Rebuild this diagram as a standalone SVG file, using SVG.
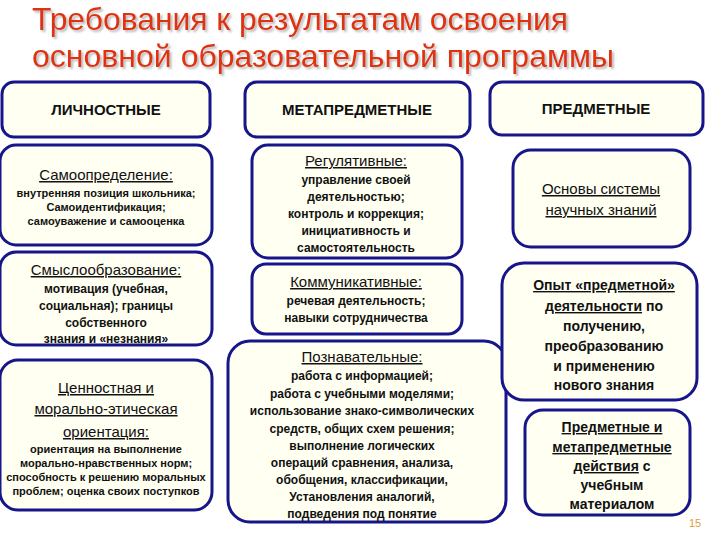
<svg xmlns="http://www.w3.org/2000/svg" width="720" height="540" viewBox="0 0 720 540">
<defs>
<filter id="sh" x="-5%" y="-20%" width="110%" height="150%"><feDropShadow dx="2" dy="2" stdDeviation="1" flood-color="#999" flood-opacity="0.7"/></filter>
</defs>
<style>
.box{fill:#fffff2;stroke:#16168a;stroke-width:3}
text{font-family:"Liberation Sans",Arial,sans-serif;text-anchor:middle;fill:#111}
.h{font-size:15px;font-weight:bold}
.s{font-size:15px;text-decoration:underline}
.b{font-size:12px;font-weight:bold}
.bs{font-size:11px;font-weight:bold}
.r{font-size:14px;font-weight:bold}
.t{font-size:32px;fill:#e0300c;text-anchor:start}
</style>
<rect width="720" height="540" fill="#fff"/>
<g id="title" filter="url(#sh)">
<text class="t" x="32" y="30" textLength="536" lengthAdjust="spacingAndGlyphs">Требования к результатам освоения</text>
<text class="t" x="32" y="67" textLength="582" lengthAdjust="spacingAndGlyphs">основной образовательной  программы</text>
</g>
<g id="n-lich"><rect class="box" x="2" y="82" width="208" height="55" rx="12"/><text class="h" x="106" y="115">ЛИЧНОСТНЫЕ</text></g>
<g id="n-meta"><rect class="box" x="245" y="82" width="225" height="55" rx="12"/><text class="h" x="357" y="115">МЕТАПРЕДМЕТНЫЕ</text></g>
<g id="n-pred"><rect class="box" x="490" y="82" width="213" height="53" rx="12"/><text class="h" x="596" y="114">ПРЕДМЕТНЫЕ</text></g>

<g id="n-samo"><rect class="box" x="0" y="145" width="212" height="100" rx="16"/>
<text class="s" x="106" y="180">Самоопределение:</text>
<text class="bs" x="106" y="197">внутренняя позиция школьника;</text>
<text class="bs" x="106" y="211">Самоидентификация;</text>
<text class="bs" x="106" y="225">самоуважение и самооценка</text></g>
<g id="n-smysl"><rect class="box" x="0" y="252" width="212" height="93" rx="16"/>
<text class="s" x="106" y="275">Смыслообразование:</text>
<text class="b" x="106" y="293">мотивация (учебная,</text>
<text class="b" x="106" y="310">социальная); границы</text>
<text class="b" x="106" y="327">собственного</text>
<text class="b" x="106" y="343">знания и «незнания»</text></g>
<g id="n-cenn"><rect class="box" x="0" y="360" width="212" height="150" rx="18"/>
<text class="s" x="106" y="393">Ценностная и</text>
<text class="s" x="106" y="414">морально-этическая</text>
<text class="s" x="106" y="437">ориентация:</text>
<text class="bs" x="106" y="453">ориентация на выполнение</text>
<text class="bs" x="106" y="467">морально-нравственных норм;</text>
<text class="bs" x="106" y="481">способность к решению моральных</text>
<text class="bs" x="106" y="495">проблем; оценка своих поступков</text></g>

<g id="n-reg"><rect class="box" x="252" y="145" width="210" height="113" rx="16"/>
<text class="s" x="356" y="166">Регулятивные:</text>
<text class="b" x="356" y="184">управление своей</text>
<text class="b" x="356" y="201">деятельностью;</text>
<text class="b" x="356" y="218">контроль и коррекция;</text>
<text class="b" x="356" y="235">инициативность и</text>
<text class="b" x="356" y="252">самостоятельность</text></g>
<g id="n-komm"><rect class="box" x="252" y="264" width="210" height="70" rx="14"/>
<text class="s" x="356" y="287">Коммуникативные:</text>
<text class="b" x="356" y="305">речевая деятельность;</text>
<text class="b" x="356" y="322">навыки сотрудничества</text></g>
<g id="n-pozn"><rect class="box" x="228" y="341" width="278" height="181" rx="22"/>
<text class="s" x="362" y="362">Познавательные:</text>
<text class="b" x="362" y="380">работа с информацией;</text>
<text class="b" x="362" y="398">работа с учебными моделями;</text>
<text class="b" x="362" y="415">использование знако-символических</text>
<text class="b" x="362" y="433">средств, общих схем решения;</text>
<text class="b" x="362" y="450">выполнение логических</text>
<text class="b" x="362" y="467">операций сравнения,  анализа,</text>
<text class="b" x="362" y="484">обобщения, классификации,</text>
<text class="b" x="362" y="501">Установления аналогий,</text>
<text class="b" x="362" y="518">подведения под понятие</text></g>

<g id="n-osn"><rect class="box" x="513" y="150" width="177" height="97" rx="18"/>
<text class="s" x="601" y="194">Основы системы</text>
<text class="s" x="601" y="215">научных знаний</text></g>
<g id="n-opyt"><rect class="box" x="502" y="263" width="195" height="137" rx="22"/>
<text class="r" x="604" y="290"><tspan text-decoration="underline">Опыт «предметной»</tspan></text>
<text class="r" x="604" y="311"><tspan text-decoration="underline">деятельности</tspan> по</text>
<text class="r" x="604" y="331">получению,</text>
<text class="r" x="604" y="351">преобразованию</text>
<text class="r" x="604" y="371">и применению</text>
<text class="r" x="604" y="390">нового знания</text></g>
<g id="n-pm"><rect class="box" x="525" y="410" width="165" height="105" rx="18"/>
<text class="r" x="612" y="432"><tspan text-decoration="underline">Предметные и</tspan></text>
<text class="r" x="612" y="452"><tspan text-decoration="underline">метапредметные</tspan></text>
<text class="r" x="612" y="471"><tspan text-decoration="underline">действия</tspan> с</text>
<text class="r" x="612" y="490">учебным</text>
<text class="r" x="612" y="509">материалом</text></g>
<g id="connectors"></g>
<text x="695" y="527" style="font-size:11px;fill:#e0a040">15</text>
</svg>
